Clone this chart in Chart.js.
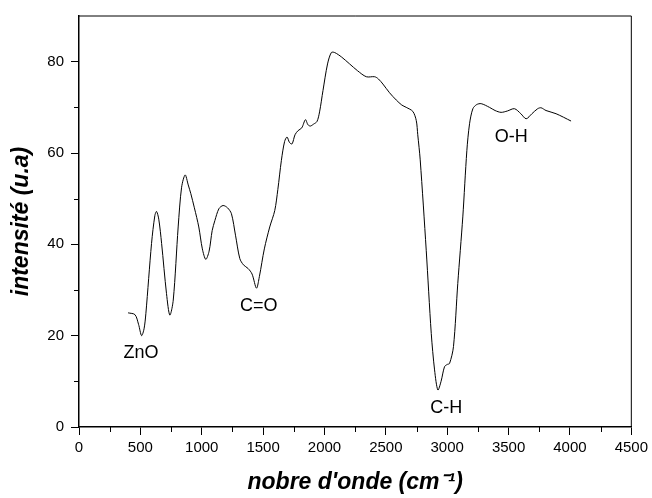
<!DOCTYPE html>
<html>
<head>
<meta charset="utf-8">
<script src="https://cdn.jsdelivr.net/npm/chart.js@4/dist/chart.umd.min.js"></script>
<style>
  html, body { margin: 0; padding: 0; background: #fff; }
  #wrap { width: 652px; height: 498px; }
</style>
</head>
<body>
<div id="wrap"><canvas id="c" width="652" height="498"></canvas></div>
<script>
// ---- data ----
const wavenumbers = [400,456,485,510,530,545,591,618,632,650,673,713,740,768,808,836,865,890,911,940,976,1005,1033,1060,1085,1107,1140,1174,1210,1242,1275,1310,1340,1378,1410,1446,1470,1510,1554,1595,1620,1649,1675,1695,1715,1736,1760,1785,1815,1845,1865,1885,1910,1939,1960,1988,2025,2056,2083,2140,2205,2270,2341,2409,2440,2476,2530,2585,2630,2666,2720,2748,2760,2780,2829,2870,2897,2924,2950,2978,3000,3019,3051,3086,3127,3160,3182,3209,3240,3277,3344,3390,3439,3490,3548,3600,3643,3690,3737,3765,3805,3887,4009];
const intensity = [25.0,24.6,22.5,20.0,21.5,24.9,40.2,46.3,47.2,45.5,40.2,29.2,24.5,27.8,43.8,52.5,55.2,53,51.1,48,43.8,39,36.7,38.5,43,45.2,47.8,48.5,48,46.7,42,36.9,35.5,34.7,33.5,30.4,33,39,43.8,47.4,52,58.4,62.5,63.5,62.3,62.0,64,64.9,65.5,67.3,66.2,65.9,66.3,66.9,69,73.7,79.5,82.0,82.0,81,79.5,78,76.7,76.7,76.2,75.1,73.2,71.6,70.5,70.0,69.1,67.1,64,58.5,38.7,20.5,12.5,8.1,10,13.2,13.7,13.9,17.6,31.4,46.0,60.5,66.4,69.7,70.6,70.8,70.0,69.3,68.9,69.2,69.7,68.6,67.5,68.6,69.7,69.9,69.3,68.6,67.0];
const bandLabels = ['ZnO', 'C=O', 'C-H', 'O-H'];
const bandX = [505, 1465, 2992, 3521];
const bandY = [16.5, 26.7, 4.4, 63.8];
const xTicks = [0,500,1000,1500,2000,2500,3000,3500,4000,4500];
const yTicks = [0,20,40,60,80];
const xMinorTicks = [250,750,1250,1750,2250,2750,3250,3750,4250];
const yMinorTicks = [10,30,50,70];

const FONT = "'Liberation Sans', Arial, sans-serif";

const extras = {
  id: 'extras',
  afterDraw(chart) {
    const {ctx, chartArea: a, scales: {x, y}} = chart;
    ctx.save();
    // top & right frame
    ctx.strokeStyle = '#000';
    ctx.lineWidth = 1;
    ctx.beginPath();
    ctx.moveTo(a.left, a.top); ctx.lineTo(a.right, a.top); ctx.lineTo(a.right, a.bottom);
    ctx.stroke();
    // minor ticks
    ctx.beginPath();
    xMinorTicks.forEach(v => {
      const px = Math.round(x.getPixelForValue(v)) + 0.5;
      ctx.moveTo(px, a.bottom); ctx.lineTo(px, a.bottom + 5);
    });
    yMinorTicks.forEach(v => {
      const py = Math.round(y.getPixelForValue(v)) + 0.5;
      ctx.moveTo(a.left, py); ctx.lineTo(a.left - 5, py);
    });
    ctx.stroke();
    // band labels
    ctx.fillStyle = '#000';
    ctx.font = '18px ' + FONT;
    ctx.textAlign = 'center';
    ctx.textBaseline = 'alphabetic';
    bandLabels.forEach((t, i) => {
      ctx.fillText(t, x.getPixelForValue(bandX[i]), y.getPixelForValue(bandY[i]) + 6.4);
    });
    ctx.restore();
  }
};

new Chart(document.getElementById('c'), {
  type: 'scatter',
  data: {
    datasets: [{
      data: wavenumbers.map((w, i) => ({x: w, y: intensity[i]})),
      showLine: true,
      borderColor: '#000',
      borderWidth: 1,
      pointRadius: 0,
      tension: 0.3,
      fill: false
    }]
  },
  options: {
    responsive: false,
    animation: false,
    layout: { padding: { top: 15, right: 19, left: 0, bottom: 0 } },
    plugins: { legend: { display: false }, tooltip: { enabled: false } },
    scales: {
      x: {
        type: 'linear', min: 0, max: 4500,
        afterBuildTicks: s => { s.ticks = xTicks.map(v => ({value: v})); },
        afterFit: s => { s.height = 71; },
        ticks: { color: '#000', font: { family: FONT, size: 15 }, padding: 4, maxRotation: 0, autoSkip: false,
                 callback: v => String(v) },
        grid: { display: true, drawOnChartArea: false, drawTicks: true, tickLength: 8, tickColor: '#000', tickWidth: 1 },
        border: { display: true, color: '#000', width: 1.5 },
        title: { display: true, text: "nobre d'onde (cm\u207B\u00B9)", color: '#000',
                 font: { family: FONT, size: 23, weight: 'bold', style: 'italic' }, padding: { top: 0, bottom: 2 } }
      },
      y: {
        type: 'linear', min: 0, max: 90,
        afterBuildTicks: s => { s.ticks = yTicks.map(v => ({value: v})); },
        afterFit: s => { s.width = 79; },
        ticks: { color: '#000', font: { family: FONT, size: 15 }, padding: 7, callback: v => String(v) },
        grid: { display: true, drawOnChartArea: false, drawTicks: true, tickLength: 8, tickColor: '#000', tickWidth: 1 },
        border: { display: true, color: '#000', width: 1.5 },
        title: { display: true, text: 'intensité (u.a)', color: '#000',
                 font: { family: FONT, size: 23, weight: 'bold', style: 'italic' }, padding: { top: 8, bottom: 0 } }
      }
    }
  },
  plugins: [extras]
});
</script>
</body>
</html>
